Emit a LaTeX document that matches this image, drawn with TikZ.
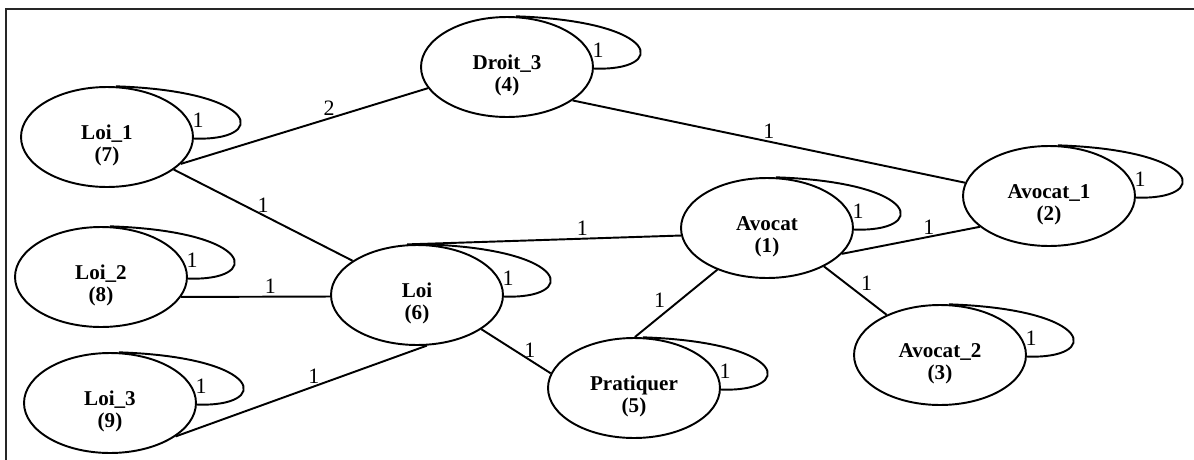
\documentclass[tikz,border=0pt]{standalone}
\usepackage{fontspec}
\setmainfont{Liberation Serif}
\usepackage{tikz}
\usetikzlibrary{shapes}
\newcommand{\nom}[2]{\raisebox{-0.18cm}[\height][\depth]{\begin{tabular}{@{}c@{}}#1\\#2\end{tabular}}}
\tikzstyle{sommet} = [draw, ellipse, line width=1.1pt, minimum width=3.44cm, minimum height=2cm, inner sep=0pt, font=\fontsize{12}{12.5}\selectfont\bfseries]
\tikzstyle{arete} = [line width=1.1pt]
\tikzstyle{poids} = [font=\fontsize{12.5}{13}\selectfont, inner sep=1pt]
\tikzstyle{cadre} = [line width=0.7pt, black!85]

\begin{document}
\begin{tikzpicture}[x=0.02cm, y=-0.02cm]
	\useasboundingbox (0,0) rectangle (1194,460);
	\draw[cadre] (6,460) -- (6,9) -- (1194,9);
	\node[sommet] (avocat) at (767,228) {\nom{Avocat}{(1)}};
	\node[sommet] (avocat1) at (1049,196) {\nom{Avocat\_1}{(2)}};
	\node[sommet] (avocat2) at (940,355) {\nom{Avocat\_2}{(3)}};
	\node[sommet] (droit3) at (507,67) {\nom{Droit\_3}{(4)}};
	\node[sommet] (pratiquer) at (634,388) {\nom{Pratiquer}{(5)}};
	\node[sommet] (loi) at (417,295) {\nom{Loi}{(6)}};
	\node[sommet] (loi1) at (107,137) {\nom{Loi\_1}{(7)}};
	\node[sommet] (loi2) at (101,277) {\nom{Loi\_2}{(8)}};
	\node[sommet] (loi3) at (110,403) {\nom{Loi\_3}{(9)}};
	\draw[arete] (loi1.-20) -- node[poids, above, pos=0.6] {2} (droit3.195);
	\draw[arete] (loi1.-26) -- node[poids, above, pos=0.5] {1} (loi.152);
	\draw[arete] (droit3.-27) -- node[poids, above, pos=0.5] {1} (avocat1.171);
	\draw[arete] (loi.101) -- node[poids, above, pos=0.64] {1} (avocat.185);
	\draw[arete] (avocat.-19) -- node[poids, above, pos=0.63] {1} (avocat1.204);
	\draw[arete] (loi2.-14) -- node[poids, above, pos=0.6] {1} (loi.181);
	\draw[arete] (loi.-28) -- node[poids, above, pos=0.7] {1} (pratiquer.170);
	\draw[arete] (avocat.220) -- node[poids, above left, pos=0.6] {1} (pratiquer.89);
	\draw[arete] (avocat.-34) -- node[poids, above right, pos=0.55] {1} (avocat2.143);
	\draw[arete] (loi3.-27) -- node[poids, above, pos=0.55] {1} (loi.-79);
	\foreach \n in {avocat,avocat1,avocat2,droit3,pratiquer,loi,loi1,loi2,loi3} {
		\draw[arete] (\n.80) .. controls +(147,5) and +(74,3) .. (\n.-1);
		\path (\n) ++(91,-17) node[poids] {1};
	}
\end{tikzpicture}
\end{document}
